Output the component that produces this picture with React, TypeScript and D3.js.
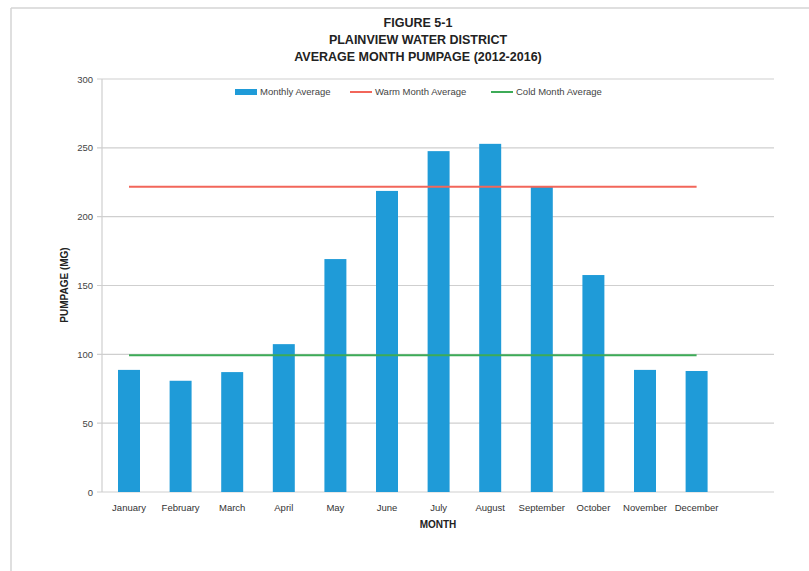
import React from "react";
import * as d3 from "d3";

const months = ["January","February","March","April","May","June","July","August","September","October","November","December"];
const monthlyAverage = [88.7, 80.8, 87.1, 107.4, 169.2, 218.7, 247.6, 252.9, 221.8, 157.6, 88.7, 87.9];
const warmAverage = 221.8;
const coldAverage = 99.3;
const yTicks = [0, 50, 100, 150, 200, 250, 300];
const titleLines = ["FIGURE 5-1", "PLAINVIEW WATER DISTRICT", "AVERAGE MONTH PUMPAGE (2012-2016)"];
const legendItems = ["Monthly Average", "Warm Month Average", "Cold Month Average"];

const W = 809, H = 571;
const plotLeft = 102, plotRight = 774, plotTop = 79, plotBottom = 492;
const BLUE = "#1f9bd8", RED = "#f2665a", GREEN = "#3dab57";

export default function App() {
  const x = d3.scaleBand<string>().domain(months).range([plotLeft + 1.2, plotLeft + 1.2 + 12 * 51.6]).paddingInner(0.574).paddingOuter(0.287);
  const y = d3.scaleLinear().domain([0, 300]).range([plotBottom, plotTop]);
  const cx = (m: string) => (x(m) as number) + x.bandwidth() / 2;
  const lineX1 = cx(months[0]);
  const lineX2 = cx(months[months.length - 1]);
  const font = "'Liberation Sans', Arial, sans-serif";
  const legendFont = "'Liberation Sans Narrow', 'Liberation Sans', Arial, sans-serif";
  return (
    <svg width={W} height={H} style={{ position: "absolute", left: 0, top: 0 }}>
      <rect x={0} y={0} width={W} height={H} fill="#fff" />
      <line x1={11} y1={8} x2={W} y2={8} stroke="#d4d4d4" strokeWidth={1.5} />
      <line x1={11} y1={8} x2={11} y2={H} stroke="#d4d4d4" strokeWidth={1.5} />
      {titleLines.map((t, i) => (
        <text key={t} x={418} y={27 + i * 17} textAnchor="middle" fontFamily={font} fontWeight="bold" fontSize={12.5} fill="#222">{t}</text>
      ))}
      {yTicks.map((t) => (
        <g key={t}>
          <line x1={plotLeft - 5} x2={plotRight} y1={y(t)} y2={y(t)} stroke="#cfcfcf" strokeWidth={1.2} />
          <text x={93} y={y(t) + 3.5} textAnchor="end" fontFamily={font} fontSize={9.5} fill="#444">{t}</text>
        </g>
      ))}
      <line x1={plotLeft} x2={plotLeft} y1={plotTop} y2={plotBottom} stroke="#cfcfcf" strokeWidth={1.2} />
      {months.map((m, i) => (
        <rect key={m} x={x(m)} y={y(monthlyAverage[i])} width={x.bandwidth()} height={y(0) - y(monthlyAverage[i])} fill={BLUE} />
      ))}
      <line x1={lineX1} x2={lineX2} y1={y(warmAverage)} y2={y(warmAverage)} stroke={RED} strokeWidth={2} />
      <line x1={lineX1} x2={lineX2} y1={y(coldAverage)} y2={y(coldAverage)} stroke={GREEN} strokeWidth={2} />
      {months.map((m) => (
        <text key={m} x={cx(m)} y={511} textAnchor="middle" fontFamily={legendFont} fontSize={9.5} fill="#333">{m}</text>
      ))}
      <text x={438} y={528} textAnchor="middle" fontFamily={font} fontWeight="bold" fontSize={10} fill="#222">MONTH</text>
      <text transform="translate(68,285) rotate(-90)" textAnchor="middle" fontFamily={font} fontWeight="bold" fontSize={10} fill="#222">PUMPAGE (MG)</text>
      <g>
        <rect x={235} y={89} width={22} height={6} fill={BLUE} />
        <text x={260} y={95} fontFamily={legendFont} fontSize={9.5} fill="#444">{legendItems[0]}</text>
        <line x1={350} x2={372} y1={92} y2={92} stroke={RED} strokeWidth={2} />
        <text x={375} y={95} fontFamily={legendFont} fontSize={9.5} fill="#444">{legendItems[1]}</text>
        <line x1={491} x2={513} y1={92} y2={92} stroke={GREEN} strokeWidth={2} />
        <text x={516} y={95} fontFamily={legendFont} fontSize={9.5} fill="#444">{legendItems[2]}</text>
      </g>
    </svg>
  );
}
